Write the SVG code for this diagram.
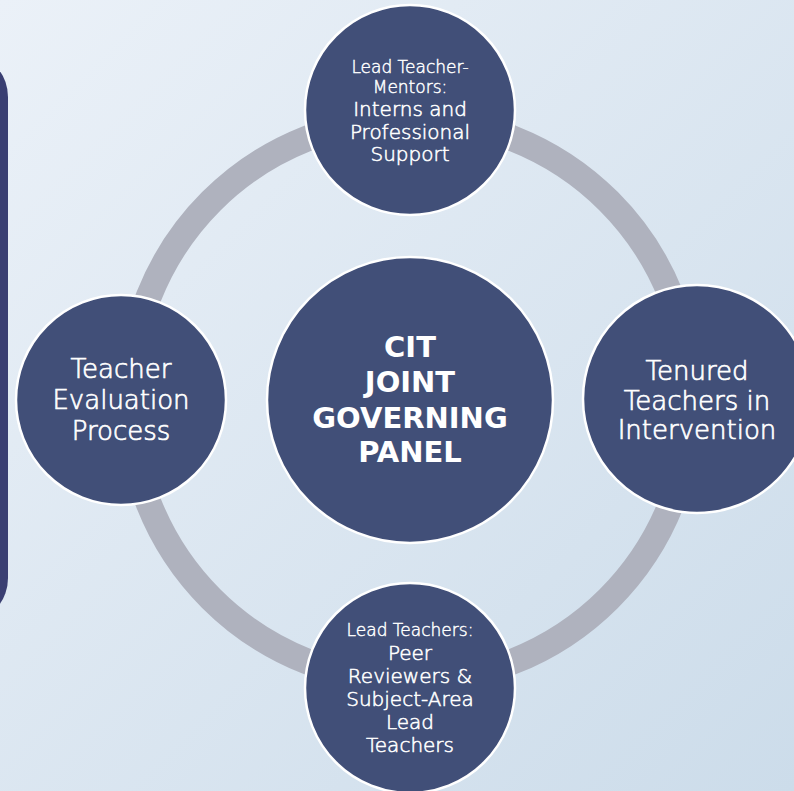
<svg xmlns="http://www.w3.org/2000/svg" width="794" height="791" viewBox="0 0 794 791">
<defs>
<linearGradient id="bg" x1="0" y1="0" x2="1" y2="1">
<stop offset="0" stop-color="#EBF1F8"/>
<stop offset="1" stop-color="#CCDCEA"/>
</linearGradient>
<style>
.node{fill:#414F78;stroke:#FFFFFF;stroke-width:2.5}
.t{fill:#FFFFFF;font-family:"DejaVu Sans","Liberation Sans",sans-serif;text-anchor:middle;font-weight:300;stroke:#FFFFFF;stroke-width:0.7}
.b{font-weight:bold;font-size:29px;stroke:none}
.big{font-size:26px}
.mid{font-size:20px;stroke-width:0.55}
.sm{font-size:17px;stroke-width:0.45}
</style>
</defs>
<rect x="0" y="0" width="794" height="791" fill="url(#bg)"/>
<rect x="-60" y="57" width="68" height="561" rx="40" ry="40" fill="#3A3F72"/>
<g id="connectors">
<circle cx="410" cy="400" r="281" fill="none" stroke="#AFB2BE" stroke-width="26"/>
</g>
<g id="center">
<circle class="node" cx="410" cy="400" r="143"/>
<text class="t b" x="410" y="357">CIT</text>
<text class="t b" x="410" y="392">JOINT</text>
<text class="t b" x="410" y="428">GOVERNING</text>
<text class="t b" x="410" y="462">PANEL</text>
</g>
<g id="top">
<circle class="node" cx="410" cy="110" r="105"/>
<text class="t sm" x="410" y="73">Lead Teacher-</text>
<text class="t sm" x="410" y="93">Mentors:</text>
<text class="t mid" x="410" y="116">Interns and</text>
<text class="t mid" x="410" y="139">Professional</text>
<text class="t mid" x="410" y="161">Support</text>
</g>
<g id="left">
<circle class="node" cx="121" cy="400" r="105"/>
<text class="t big" x="121" y="378">Teacher</text>
<text class="t big" x="121" y="409">Evaluation</text>
<text class="t big" x="121" y="440">Process</text>
</g>
<g id="right">
<circle class="node" cx="697" cy="399" r="114"/>
<text class="t big" x="697" y="380">Tenured</text>
<text class="t big" x="697" y="410">Teachers in</text>
<text class="t big" x="697" y="439">Intervention</text>
</g>
<g id="bottom">
<circle class="node" cx="410" cy="688" r="105"/>
<text class="t sm" x="410" y="636">Lead Teachers:</text>
<text class="t mid" x="410" y="660">Peer</text>
<text class="t mid" x="410" y="683">Reviewers &amp;</text>
<text class="t mid" x="410" y="706">Subject-Area</text>
<text class="t mid" x="410" y="729">Lead</text>
<text class="t mid" x="410" y="752">Teachers</text>
</g>
</svg>
